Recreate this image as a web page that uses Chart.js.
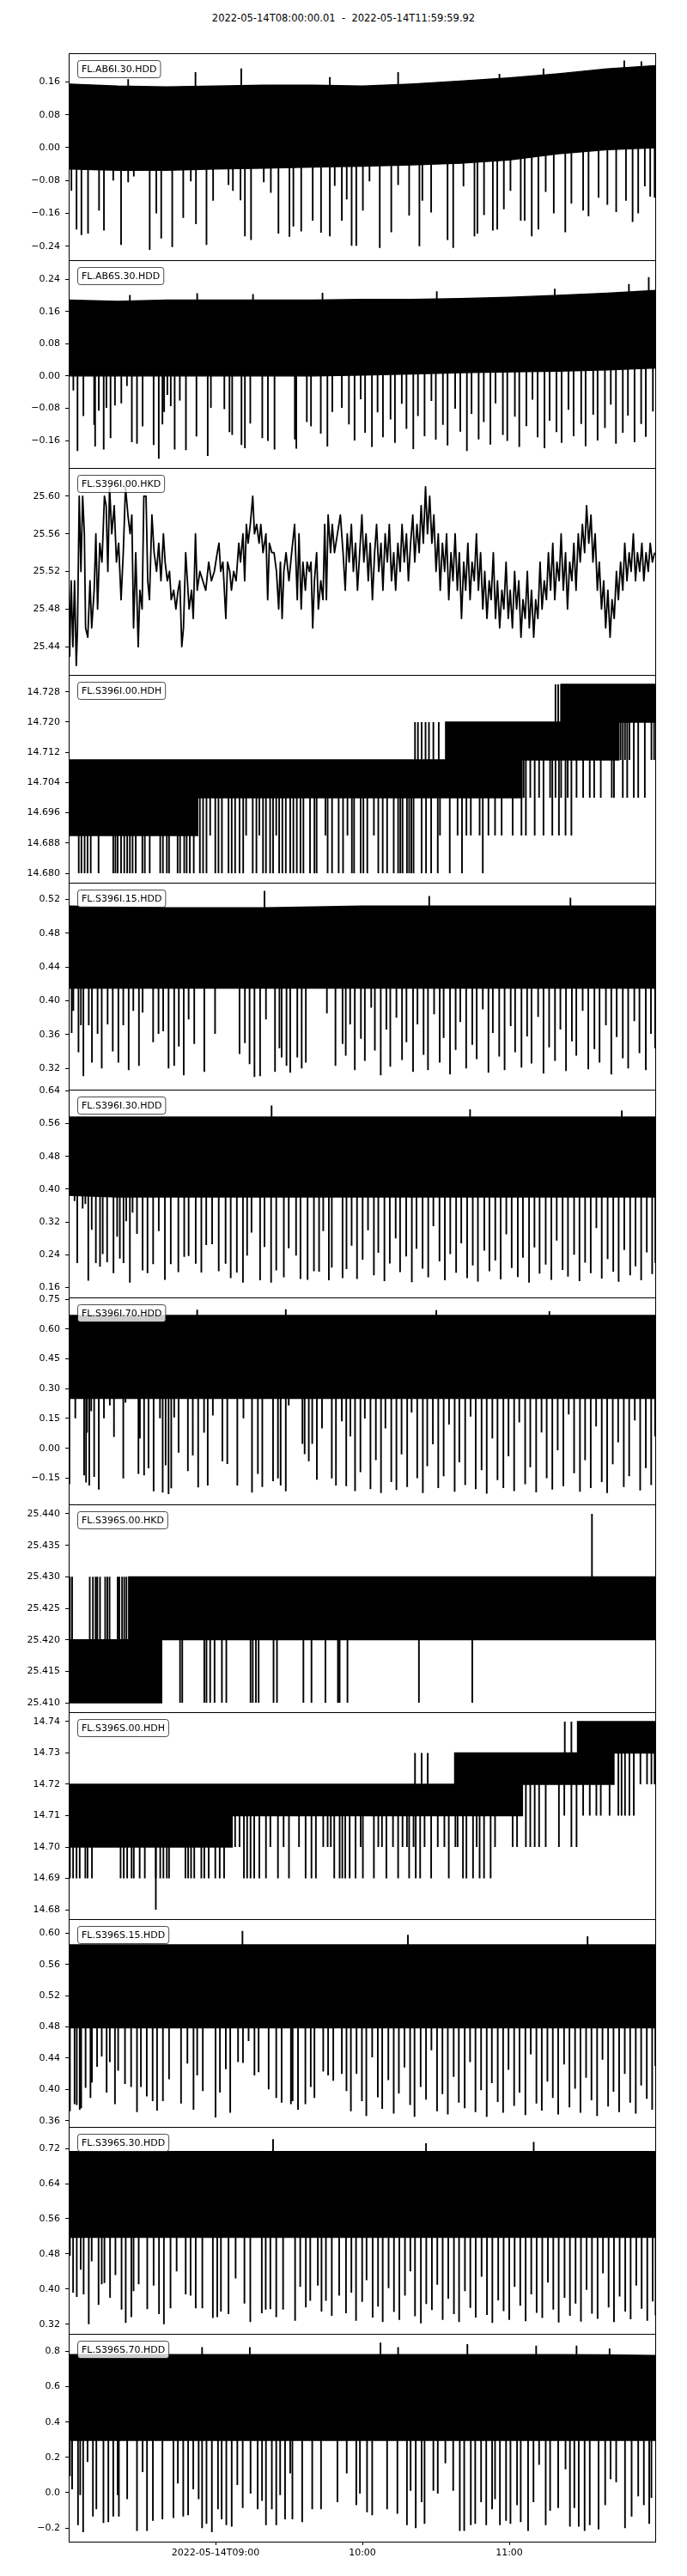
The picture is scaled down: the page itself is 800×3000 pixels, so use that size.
<!DOCTYPE html>
<html>
<head>
<meta charset="utf-8">
<script src="https://cdn.jsdelivr.net/npm/chart.js@4/dist/chart.umd.min.js"></script>
<style>
  body { margin: 0; background: #fff; width: 800px; height: 3000px; position: relative; font-family: 'DejaVu Sans', sans-serif; }
  #title { position: absolute; top: 14px; left: 0; width: 800px; text-align: center; font-size: 11.5px; white-space: pre; color: #000; }
  .panel { position: absolute; left: 0; width: 800px; }
</style>
</head>
<body>
<div id="title">2022-05-14T08:00:00.01  -  2022-05-14T11:59:59.92</div>
<script>
// time axis is minutes after 2022-05-14T08:00
const xTickMinutes = [60, 120, 180];
const xTickLabels = ['2022-05-14T09:00', '10:00', '11:00'];

const channelNames = ['FL.AB6I.30.HDD', 'FL.AB6S.30.HDD', 'FL.S396I.00.HKD', 'FL.S396I.00.HDH',
  'FL.S396I.15.HDD', 'FL.S396I.30.HDD', 'FL.S396I.70.HDD', 'FL.S396S.00.HKD',
  'FL.S396S.00.HDH', 'FL.S396S.15.HDD', 'FL.S396S.30.HDD', 'FL.S396S.70.HDD'];

const yLimits = [[-0.274, 0.230], [-0.228, 0.287], [25.410, 25.630], [14.6775, 14.7325],
  [0.2949, 0.5397], [0.136, 0.643], [-0.282, 0.759], [25.4085, 25.4415],
  [14.677, 14.743], [0.352, 0.618], [0.298, 0.769], [-0.277, 0.899]];
const yTicks = [
  [-0.24, -0.16, -0.08, 0, 0.08, 0.16],
  [-0.16, -0.08, 0, 0.08, 0.16, 0.24],
  [25.44, 25.48, 25.52, 25.56, 25.60],
  [14.680, 14.688, 14.696, 14.704, 14.712, 14.720, 14.728],
  [0.32, 0.36, 0.40, 0.44, 0.48, 0.52],
  [0.16, 0.24, 0.32, 0.40, 0.48, 0.56, 0.64],
  [-0.15, 0, 0.15, 0.30, 0.45, 0.60, 0.75],
  [25.410, 25.415, 25.420, 25.425, 25.430, 25.435, 25.440],
  [14.68, 14.69, 14.70, 14.71, 14.72, 14.73, 14.74],
  [0.36, 0.40, 0.44, 0.48, 0.52, 0.56, 0.60],
  [0.32, 0.40, 0.48, 0.56, 0.64, 0.72],
  [-0.2, 0, 0.2, 0.4, 0.6, 0.8]];
const yDecimals = [2, 2, 2, 3, 2, 2, 2, 3, 2, 2, 2, 1];

// envelope of the dense traces, sampled every 20 minutes
const bandMinutes = [0, 20, 40, 60, 80, 100, 120, 140, 160, 180, 200, 220, 240];
const ab6iHi = [0.155, 0.150, 0.148, 0.150, 0.152, 0.152, 0.150, 0.155, 0.162, 0.170, 0.180, 0.192, 0.200];
const ab6iLo = [-0.052, -0.055, -0.055, -0.052, -0.050, -0.047, -0.045, -0.042, -0.038, -0.030, -0.015, -0.005, 0.000];
const ab6sHi = [0.188, 0.185, 0.188, 0.188, 0.188, 0.188, 0.190, 0.190, 0.192, 0.195, 0.200, 0.205, 0.212];
const ab6sLo = [0.000, 0.000, 0.000, 0.000, 0.000, 0.000, 0.002, 0.005, 0.008, 0.010, 0.012, 0.015, 0.020];
const s396i15Hi = [0.512, 0.511, 0.510, 0.510, 0.510, 0.511, 0.512, 0.512, 0.512, 0.512, 0.512, 0.512, 0.512];
const s396i15Lo = [0.415, 0.415, 0.415, 0.415, 0.415, 0.415, 0.415, 0.415, 0.415, 0.415, 0.415, 0.415, 0.415];
const s396i30Hi = [0.576, 0.576, 0.576, 0.576, 0.576, 0.576, 0.576, 0.576, 0.576, 0.576, 0.576, 0.576, 0.576];
const s396i30Lo = [0.385, 0.381, 0.381, 0.381, 0.381, 0.381, 0.381, 0.381, 0.381, 0.381, 0.381, 0.381, 0.381];
const s396i70Hi = [0.668, 0.668, 0.668, 0.668, 0.668, 0.668, 0.668, 0.668, 0.668, 0.668, 0.668, 0.668, 0.668];
const s396i70Lo = [0.251, 0.251, 0.251, 0.251, 0.251, 0.251, 0.251, 0.251, 0.251, 0.251, 0.251, 0.251, 0.251];
const s396s15Hi = [0.585, 0.585, 0.585, 0.585, 0.585, 0.585, 0.585, 0.585, 0.585, 0.585, 0.585, 0.585, 0.585];
const s396s15Lo = [0.479, 0.479, 0.479, 0.479, 0.479, 0.479, 0.479, 0.479, 0.479, 0.479, 0.479, 0.479, 0.479];
const s396s30Hi = [0.713, 0.713, 0.713, 0.713, 0.713, 0.713, 0.713, 0.713, 0.713, 0.713, 0.713, 0.713, 0.713];
const s396s30Lo = [0.518, 0.518, 0.518, 0.518, 0.518, 0.518, 0.518, 0.518, 0.518, 0.518, 0.518, 0.518, 0.518];
const s396s70Hi = [0.782, 0.782, 0.782, 0.782, 0.782, 0.782, 0.782, 0.782, 0.782, 0.782, 0.782, 0.780, 0.776];
const s396s70Lo = [0.296, 0.296, 0.296, 0.296, 0.296, 0.296, 0.296, 0.296, 0.296, 0.296, 0.296, 0.296, 0.296];

// spikes [minute, value]
const ab6iDown = [[1.1,-0.105],[3.2,-0.199],[5.2,-0.213],[7.9,-0.209],[12.4,-0.153],[14.4,-0.202],[18.2,-0.080],[21.4,-0.237],
  [24.3,-0.084],[26.6,-0.070],[33.1,-0.249],[35.8,-0.160],[37.8,-0.221],[42.3,-0.242],[46.8,-0.171],[49.9,-0.082],
  [52.0,-0.186],[56.3,-0.237],[59.0,-0.129],[65.3,-0.091],[67.1,-0.105],[70.2,-0.128],[72.0,-0.216],[74.5,-0.225],
  [79.7,-0.084],[82.6,-0.110],[85.7,-0.209],[90.2,-0.217],[91.8,-0.192],[95.0,-0.204],[99.7,-0.178],[103.1,-0.207],
  [106.7,-0.216],[108.7,-0.093],[111.6,-0.178],[113.6,-0.126],[115.6,-0.239],[117.5,-0.239],[120.2,-0.153],[122.9,-0.082],
  [127.1,-0.244],[131.8,-0.206],[134.6,-0.091],[139.1,-0.165],[143.3,-0.240],[144.5,-0.129],[148.1,-0.158],[154.8,-0.225],
  [157.1,-0.244],[161.3,-0.094],[165.8,-0.216],[167.0,-0.209],[169.7,-0.164],[173.3,-0.202],[175.1,-0.199],[177.8,-0.150],
  [180.5,-0.105],[184.7,-0.178],[186.3,-0.178],[189.2,-0.216],[191.9,-0.199],[194.9,-0.108],[198.2,-0.160],[202.9,-0.206],
  [205.4,-0.136],[210.2,-0.153],[212.4,-0.167],[216.5,-0.122],[220.1,-0.139],[223.7,-0.157],[227.7,-0.129],[230.4,-0.181],
  [232.7,-0.160],[235.4,-0.094],[237.6,-0.119],[239.4,-0.122]];
const ab6iUp = [[24.3,0.167],[51.8,0.184],[70.5,0.193],[106.7,0.172],[134.6,0.184],[176.0,0.180],[194.0,0.193],[227.0,0.212],[234.0,0.210]];

const ab6sDown = [[1.9,-0.036],[3.6,-0.186],[6.0,-0.099],[10.4,-0.121],[10.8,-0.175],[12.3,-0.086],[14.3,-0.182],[15.4,-0.079],
  [17.1,-0.154],[18.9,-0.073],[21.5,-0.068],[23.8,-0.025],[25.8,-0.164],[27.9,-0.168],[30.2,-0.125],[34.7,-0.171],
  [36.8,-0.205],[38.3,-0.120],[39.0,-0.089],[40.3,-0.047],[41.7,-0.075],[43.3,-0.182],[45.4,-0.061],[47.9,-0.184],
  [52.2,-0.150],[56.8,-0.198],[58.1,-0.079],[63.6,-0.082],[65.7,-0.139],[66.8,-0.146],[70.6,-0.171],[72.0,-0.179],
  [74.2,-0.118],[79.1,-0.154],[81.4,-0.161],[84.1,-0.182],[92.4,-0.157],[93.0,-0.180],[97.3,-0.114],[99.0,-0.125],
  [103.0,-0.143],[105.7,-0.175],[107.7,-0.089],[111.6,-0.079],
  [114.5,-0.120],[116.8,-0.160],[119.3,-0.058],[121.1,-0.141],[123.9,-0.176],[126.2,-0.090],[128.4,-0.152],[131.5,-0.108],
  [133.3,-0.166],[136.1,-0.069],[138.0,-0.131],[140.8,-0.181],[142.7,-0.099],[145.4,-0.149],[148.2,-0.062],[150.0,-0.158],
  [152.9,-0.121],[154.8,-0.172],[157.9,-0.081],[160.0,-0.138],[162.7,-0.186],[164.6,-0.094],[167.5,-0.157],[169.6,-0.114],
  [172.3,-0.170],[174.4,-0.068],[177.4,-0.146],[179.2,-0.161],[182.3,-0.101],[184.1,-0.176],[187.0,-0.124],[189.5,-0.059],
  [191.6,-0.152],[194.4,-0.179],[196.5,-0.111],[199.3,-0.139],[201.4,-0.166],[204.2,-0.084],[206.3,-0.149],[209.4,-0.119],
  [211.2,-0.174],[214.3,-0.096],[216.1,-0.160],[219.1,-0.129],[221.5,-0.071],[223.6,-0.168],[226.4,-0.141],[228.5,-0.098],
  [231.2,-0.164],[233.9,-0.119],[235.8,-0.151],[238.7,-0.088]];
const ab6sUp = [[25.0,0.201],[52.5,0.205],[75.3,0.203],[103.7,0.206],[150.4,0.210],[198.6,0.216],[228.9,0.228],[237.0,0.245]];

const s396iHkd = [[0.0,25.51],[0.4,25.43],[1.0,25.51],[1.7,25.44],[2.4,25.51],[3.1,25.42],[3.6,25.46],[4.3,25.60],[5.0,25.52],
  [5.7,25.60],[6.4,25.56],[6.9,25.46],[7.8,25.45],[8.7,25.51],[9.4,25.46],[10.4,25.50],[11.1,25.56],[11.8,25.48],[12.7,25.55],
  [13.6,25.53],[14.6,25.60],[15.3,25.59],[16.0,25.52],[16.7,25.61],[17.6,25.56],[18.6,25.59],[19.5,25.53],[20.4,25.55],
  [21.4,25.49],[22.3,25.54],[23.2,25.61],[24.2,25.58],[25.1,25.56],[25.8,25.58],[26.5,25.46],[27.4,25.54],[28.4,25.44],
  [29.1,25.50],[30.0,25.48],[30.7,25.60],[31.6,25.60],[32.3,25.51],[33.0,25.49],[34.0,25.58],[34.9,25.54],[35.9,25.52],
  [36.8,25.55],[37.7,25.51],[38.7,25.56],[39.4,25.53],[40.3,25.51],[41.2,25.52],[41.9,25.49],[42.9,25.50],[43.8,25.48],
  [44.7,25.50],[45.4,25.51],[46.2,25.44],[46.9,25.46],[47.8,25.54],[48.5,25.51],[49.2,25.48],[50.2,25.50],[50.9,25.47],
  [51.8,25.56],[52.5,25.50],[53.6,25.52],[54.8,25.51],[56.0,25.50],[57.2,25.53],[58.3,25.51],[59.5,25.52],[60.7,25.54],
  [61.4,25.55],[62.1,25.52],[63.0,25.53],[64.2,25.47],[64.9,25.53],[65.8,25.52],[66.5,25.50],[67.4,25.52],[68.4,25.51],
  [69.5,25.55],[70.2,25.53],[71.2,25.56],[71.9,25.51],[72.6,25.57],[73.3,25.55],[74.2,25.57],[75.2,25.60],[75.9,25.56],
  [76.8,25.57],[77.8,25.55],[78.5,25.57],[79.4,25.54],[80.6,25.56],[81.3,25.49],[82.0,25.55],[83.0,25.54],[83.9,25.54],
  [84.9,25.52],[85.8,25.48],[86.5,25.53],[87.2,25.47],[87.9,25.52],[88.8,25.54],[90.0,25.51],[91.1,25.54],[92.3,25.57],
  [93.4,25.49],[94.1,25.56],[95.0,25.48],[95.7,25.53],[96.7,25.50],[97.4,25.53],[98.3,25.52],[99.0,25.53],[99.7,25.46],
  [100.4,25.51],[101.3,25.54],[102.0,25.48],[103.0,25.51],[103.9,25.49],[104.6,25.57],[105.3,25.49],[106.0,25.58],
  [107.0,25.54],[107.7,25.57],[108.6,25.54],[109.8,25.56],[111.0,25.58],[112.1,25.54],
  [113.0,25.50],[113.8,25.56],[114.6,25.53],[115.5,25.57],[116.3,25.52],[117.2,25.55],[118.0,25.50],[118.9,25.54],
  [119.8,25.58],[120.6,25.53],[121.5,25.56],[122.4,25.51],[123.2,25.55],[124.1,25.49],[125.0,25.54],[125.8,25.57],
  [126.7,25.52],[127.6,25.55],[128.4,25.50],[129.3,25.56],[130.2,25.53],[131.0,25.57],[131.9,25.51],[132.8,25.54],
  [133.6,25.50],[134.5,25.55],[135.4,25.52],[136.2,25.57],[137.1,25.53],[138.0,25.56],[138.8,25.51],[139.7,25.55],
  [140.6,25.58],[141.4,25.53],[142.3,25.57],[143.2,25.54],[144.0,25.59],[144.9,25.55],[145.8,25.61],[146.6,25.56],
  [147.5,25.60],[148.4,25.55],[149.2,25.58],[150.1,25.52],[151.0,25.56],[151.8,25.50],[152.7,25.55],[153.6,25.52],
  [154.4,25.56],[155.3,25.49],[156.2,25.54],[157.0,25.51],[157.9,25.56],[158.8,25.50],[159.6,25.54],[160.5,25.47],
  [161.4,25.53],[162.2,25.50],[163.1,25.55],[164.0,25.49],[164.8,25.53],[165.7,25.51],[166.6,25.56],[167.4,25.50],
  [168.3,25.54],[169.2,25.48],[170.0,25.52],[170.9,25.47],[171.8,25.51],[172.6,25.49],[173.5,25.54],[174.4,25.47],
  [175.2,25.51],[176.1,25.46],[177.0,25.50],[177.8,25.48],[178.7,25.53],[179.6,25.47],[180.4,25.50],[181.3,25.46],
  [182.2,25.52],[183.0,25.48],[183.9,25.51],[184.8,25.45],[185.6,25.49],[186.5,25.47],[187.4,25.52],[188.2,25.46],
  [189.1,25.50],[190.0,25.45],[190.8,25.49],[191.7,25.47],[192.6,25.53],[193.4,25.48],[194.3,25.51],[195.2,25.49],
  [196.0,25.54],[196.9,25.50],[197.8,25.55],[198.6,25.49],[199.5,25.53],[200.4,25.51],[201.2,25.56],[202.1,25.50],
  [203.0,25.54],[203.8,25.48],[204.7,25.53],[205.6,25.51],[206.4,25.55],[207.3,25.50],[208.2,25.56],[209.0,25.53],
  [209.9,25.57],[210.8,25.54],[211.6,25.59],[212.5,25.55],[213.4,25.58],[214.2,25.53],[215.1,25.56],[216.0,25.50],
  [216.8,25.53],[217.7,25.48],[218.6,25.51],[219.4,25.46],[220.3,25.50],[221.2,25.45],[222.0,25.49],[222.9,25.47],
  [223.8,25.52],[224.6,25.49],[225.5,25.53],[226.4,25.50],[227.2,25.55],[228.1,25.51],[229.0,25.54],[229.8,25.52],
  [230.7,25.56],[231.6,25.51],[232.4,25.54],[233.3,25.52],[234.2,25.55],[235.0,25.51],[235.9,25.54],[236.8,25.52],
  [237.6,25.55],[238.5,25.53],[239.4,25.54]];

// quantised HDH / HKD channels: level changes and spike times
const s396iHdhT = [0, 52.7, 154.0, 185.2, 201.2, 224.8, 240];
const s396iHdhHi = [14.71, 14.71, 14.72, 14.72, 14.73, 14.73, 14.73];
const s396iHdhLo = [14.69, 14.70, 14.70, 14.71, 14.71, 14.72, 14.72];
const s396iHdh69to68 = [4.1,5.2,6.5,7.7,9.0,12.2,18.2,19.1,20.0,21.4,22.7,23.9,25.0,26.1,27.4,30.1,31.1,33.1,37.4,38.5,40.1,41.0,44.5,45.5,47.2,48.2,49.5,51.1];
const s396iHdh70to68 = [53.6,54.9,56.3,59.9,61.2,62.6,65.3,66.6,68.0,69.8,71.3,75.2,76.7,79.4,80.6,82.3,83.5,86.0,87.3,88.7,90.5,91.8,93.2,94.7,95.9,98.6,100.4,101.3,105.8,107.6,110.3,112.1,115.7,116.6,119.3,120.4,122.0,126.5,128.3,130.1,132.8,134.6,135.5,136.4,138.2,139.1,140.0,140.9,144.2,146.0,148.1,150.8,155.7,160.7,169.2];
const s396iHdh71to69 = [57.8,72.5,77.9,84.8,104.9,113.9,124.7,151.7,158.9,162.5,164.3,167.9,171.5,174.2,176.9,181.4,185.0,186.8,190.4,194.0,197.6,200.3,203.0,205.4];
const s396iHdh72to70 = [185.9,188.6,192.2,196.7,198.9,201.2,203.9,207.5,210.2,212.9,214.7,217.4,221.9,222.8,226.4,228.2,230.9,232.7,235.4];
const s396iHdh72to71 = [225.5,227.3,229.1,238.1,239.2];
const s396iHdh71to72 = [141.5,142.7,144.2,145.8,147.2,149.0,151.2];
const s396iHdh72to73 = [198.9,200.0,201.2];

const s396sHkdT = [0, 24.5, 38.0, 240];
const s396sHkdHi = [25.42, 25.43, 25.43, 25.43];
const s396sHkdLo = [25.41, 25.41, 25.42, 25.42];
const s396sHkd42to43 = [0.5,1.4,8.6,9.9,11.0,11.7,12.8,14.9,15.8,16.7,20.0,20.7,21.8,22.7,23.6];
const s396sHkd42to41 = [45.5,46.4,55.4,56.3,57.8,59.6,62.6,64.4,74.3,75.2,76.5,77.6,83.7,85.1,95.9,99.2,104.9,110.0,110.7,113.9,143.1,164.9];
const s396sHkd43to44 = [213.8];

const s396sHdhT = [0, 66.8, 157.7, 185.4, 207.9, 222.8, 240];
const s396sHdhHi = [14.72, 14.72, 14.73, 14.73, 14.74, 14.74, 14.74];
const s396sHdhLo = [14.70, 14.71, 14.71, 14.72, 14.72, 14.73, 14.73];
const s396sHdh70to69 = [0.5,1.8,3.2,4.5,6.8,7.7,9.5,21.2,22.5,23.9,25.7,26.6,29.0,31.1,35.6,37.4,38.7,40.1,41.0,47.7,48.8,50.0,51.3,54.2,55.4,57.2,59.9,61.7,63.5];
const s396sHdh70to68 = [35.6];
const s396sHdh71to69 = [71.6,72.9,74.3,75.8,77.9,80.6,85.5,90.0,96.8,99.2,101.0,108.5,110.7,111.8,113.0,114.8,117.2,120.2,124.7,129.8,134.6,139.1,141.8,143.6,148.1,155.3,161.1,162.5,165.2,167.9,169.7,172.4];
const s396sHdh71to70 = [68.0,69.8,82.4,87.8,94.1,104.0,105.8,107.1,119.3,126.5,128.0,132.5,136.4,138.2,140.9,145.4,150.8,153.5,158.0,158.9,166.7,174.2,181.4,183.2];
const s396sHdh72to70 = [186.8,188.6,190.4,192.2,194.9,200.3,205.4,207.5];
const s396sHdh72to71 = [202.5,210.2,212.9,215.6,217.4,221.0];
const s396sHdh73to71 = [224.6,225.9,227.3,229.1,230.9];
const s396sHdh73to72 = [233.6,236.3,238.1,239.4];
const s396sHdh72to73 = [141.5,144.2,146.7];
const s396sHdh73to74 = [202.7,205.4];

const s396i15Down = [[1.2,0.362],[1.9,0.388],[4.0,0.339],[5.0,0.371],[6.0,0.311],[8.2,0.371],[9.5,0.327],[11.8,0.361],
  [13.5,0.320],[15.9,0.372],[18.0,0.340],[20.3,0.327],[22.3,0.371],[24.5,0.318],[26.4,0.388],[28.7,0.323],[30.2,0.386],
  [34.5,0.351],[36.7,0.361],[38.6,0.364],[40.8,0.320],[43.1,0.323],[45.0,0.346],[47.0,0.312],[49.0,0.378],[51.3,0.349],
  [55.4,0.316],[59.8,0.361],[69.8,0.337],[72.0,0.350],[73.9,0.325],[75.9,0.310],[78.2,0.311],[80.6,0.378],[84.3,0.316],
  [86.1,0.344],[87.0,0.333],[89.0,0.323],[90.5,0.315],[93.4,0.333],[95.2,0.320],[96.9,0.327],[105.5,0.385],[109.0,0.323],
  [111.9,0.349],
  [113.2,0.335],[115.0,0.372],[116.9,0.318],[119.4,0.355],[121.0,0.329],[123.6,0.392],[125.1,0.341],[127.5,0.312],
  [129.8,0.366],[131.4,0.322],[133.9,0.380],[136.2,0.330],[138.0,0.351],[140.7,0.316],[142.5,0.372],[145.0,0.336],
  [146.8,0.318],[149.3,0.384],[151.6,0.327],[153.2,0.356],[155.8,0.313],[158.1,0.342],[160.0,0.375],[162.4,0.320],
  [164.9,0.348],[166.7,0.331],[169.2,0.390],[171.5,0.315],[173.3,0.362],[175.9,0.334],[178.1,0.318],[180.6,0.370],
  [182.4,0.339],[185.0,0.321],[187.3,0.358],[189.1,0.326],[191.8,0.381],[194.0,0.314],[196.3,0.345],[198.7,0.329],
  [200.9,0.366],[203.2,0.317],[205.6,0.352],[207.4,0.335],[210.0,0.388],[212.3,0.319],[214.8,0.343],[216.9,0.327],
  [219.5,0.371],[221.7,0.313],[223.9,0.357],[226.4,0.332],[228.6,0.320],[231.1,0.376],[233.2,0.338],[235.8,0.318],
  [237.9,0.361],[239.6,0.344]];
const s396i15Up = [[80.0,0.530],[147.3,0.524],[205.0,0.522]];

const s396i30Down = [[2.4,0.371],[3.5,0.220],[5.7,0.353],[6.8,0.364],[8.0,0.177],[9.4,0.301],[11.1,0.220],[12.8,0.211],
  [13.9,0.242],[15.7,0.222],[18.3,0.195],[19.8,0.284],[20.9,0.231],[22.4,0.220],[23.5,0.322],[25.0,0.172],[26.1,0.343],
  [27.9,0.291],[30.2,0.202],[32.2,0.195],[34.5,0.217],[36.8,0.298],[39.3,0.179],[41.7,0.217],[44.8,0.198],[47.2,0.235],
  [49.0,0.237],[51.9,0.218],[54.2,0.197],[56.2,0.264],[58.6,0.266],[61.3,0.200],[64.1,0.218],[66.2,0.183],[68.7,0.197],
  [71.2,0.172],[72.9,0.238],[74.7,0.294],[78.2,0.178],[80.0,0.259],[82.7,0.172],[84.8,0.202],[87.9,0.185],[89.9,0.256],
  [92.9,0.238],[94.7,0.181],[97.6,0.179],[100.2,0.200],[102.3,0.199],[104.0,0.298],[106.3,0.178],[107.5,0.209],[111.9,0.183],
  [113.5,0.205],[115.6,0.262],[117.8,0.181],[120.1,0.228],[122.3,0.300],[124.7,0.190],[126.5,0.245],[129.0,0.176],
  [131.2,0.219],[133.6,0.280],[135.4,0.198],[137.9,0.236],[140.2,0.173],[142.1,0.255],[144.6,0.206],[146.9,0.185],
  [149.0,0.310],[151.5,0.224],[153.7,0.178],[155.9,0.242],[158.3,0.196],[160.4,0.268],[162.8,0.183],[165.1,0.214],
  [167.2,0.175],[169.8,0.250],[171.9,0.200],[174.3,0.226],[176.5,0.180],[178.8,0.290],[181.0,0.208],[183.5,0.186],
  [185.6,0.233],[188.1,0.172],[190.3,0.258],[192.4,0.194],[194.9,0.216],[197.2,0.179],[199.4,0.275],[201.8,0.203],
  [204.0,0.187],[206.5,0.240],[208.7,0.176],[211.0,0.221],[213.3,0.195],[215.6,0.305],[217.8,0.182],[220.2,0.230],
  [222.5,0.199],[224.7,0.174],[227.0,0.252],[229.4,0.190],[231.6,0.212],[233.9,0.178],[236.2,0.246],[238.4,0.193],
  [239.7,0.220]];
const s396i30Up = [[82.9,0.604],[164.0,0.595],[226.0,0.592]];

const s396i70Down = [[0.3,-0.180],[2.7,0.151],[6.3,-0.136],[7.1,-0.172],[7.5,0.079],[8.4,-0.187],[9.2,0.187],[10.4,-0.144],
  [12.3,-0.208],[14.4,0.151],[16.8,0.216],[18.5,0.057],[22.3,-0.151],[23.2,0.230],[28.5,-0.129],[29.1,0.050],[30.8,-0.136],
  [32.6,-0.101],[34.7,-0.216],[37.3,0.151],[38.4,-0.223],[39.6,-0.086],[40.8,-0.230],[41.9,-0.201],[43.1,0.155],[44.9,-0.022],
  [48.7,-0.115],[50.7,-0.036],[52.9,-0.197],[55.3,0.079],[56.8,-0.187],[58.9,0.165],[62.8,-0.065],[64.8,-0.079],[68.9,-0.187],
  [71.4,0.151],[74.9,-0.223],[77.3,-0.129],[79.1,-0.194],[83.5,-0.165],[85.5,-0.151],[86.6,-0.187],[88.7,-0.216],[89.9,0.216],
  [95.5,0.022],[96.4,-0.029],[98.1,-0.065],[99.5,0.022],[101.4,-0.158],[103.5,0.100],[107.5,-0.151],[109.2,-0.187],[111.6,0.136],
  [113.4,-0.190],[115.1,0.060],[117.0,-0.215],[119.2,-0.120],[121.0,0.150],[123.3,-0.205],[125.5,-0.060],[127.6,-0.225],
  [129.4,0.100],[131.8,-0.170],[133.9,-0.210],[136.0,-0.030],[138.3,-0.195],[140.1,0.180],[142.4,-0.150],[144.7,-0.225],
  [146.5,-0.090],[148.8,0.020],[151.0,-0.200],[153.2,-0.140],[155.4,0.120],[157.7,-0.218],[159.6,-0.070],[162.0,-0.185],
  [164.2,0.160],[166.3,-0.205],[168.7,-0.110],[170.8,-0.228],[173.1,0.050],[175.2,-0.160],[177.6,-0.200],[179.7,-0.040],
  [182.0,-0.215],[184.1,0.130],[186.5,-0.180],[188.6,-0.095],[191.0,-0.222],[193.2,0.080],[195.3,-0.150],[197.6,-0.208],
  [199.8,-0.010],[202.1,-0.190],[204.3,0.170],[206.5,-0.125],[208.9,-0.218],[211.0,-0.060],[213.3,-0.200],[215.5,0.110],
  [217.8,-0.170],[220.0,-0.225],[222.3,-0.080],[224.5,0.030],[226.8,-0.195],[229.0,-0.140],[231.3,0.140],[233.5,-0.212],
  [235.8,-0.100],[238.0,-0.185],[239.6,0.060]];
const s396i70Up = [[52.5,0.697],[88.7,0.700],[150.2,0.695],[196.4,0.690]];

const s396s15Down = [[0.5,0.372],[2.4,0.381],[3.3,0.380],[4.5,0.374],[5.1,0.376],[6.9,0.402],[8.9,0.389],[9.5,0.409],
  [11.6,0.429],[13.5,0.442],[15.5,0.396],[16.8,0.435],[18.9,0.381],[20.2,0.424],[23.0,0.407],[25.5,0.403],[27.9,0.371],
  [29.5,0.403],[31.9,0.391],[34.3,0.385],[36.1,0.373],[38.5,0.385],[41.0,0.413],[45.9,0.382],[48.5,0.433],[51.0,0.374],
  [52.5,0.418],[54.8,0.398],[60.0,0.364],[61.8,0.396],[64.2,0.426],[66.0,0.370],[69.2,0.435],[71.2,0.434],[73.5,0.462],
  [75.9,0.418],[77.6,0.422],[81.7,0.400],[84.8,0.389],[87.0,0.383],[90.8,0.381],[91.5,0.385],[93.7,0.374],[96.7,0.381],
  [98.9,0.403],[100.4,0.389],[104.0,0.423],[106.0,0.418],[108.1,0.411],[111.6,0.420],
  [113.5,0.398],[115.3,0.372],[117.6,0.420],[119.8,0.385],[121.6,0.366],[124.0,0.441],[126.3,0.390],[128.1,0.375],
  [130.6,0.412],[132.8,0.369],[134.9,0.395],[137.2,0.428],[139.5,0.380],[141.3,0.365],[143.8,0.403],[146.0,0.387],
  [148.2,0.450],[150.5,0.372],[152.7,0.394],[154.9,0.368],[157.3,0.416],[159.4,0.383],[161.8,0.376],[164.0,0.435],
  [166.2,0.371],[168.5,0.399],[170.8,0.365],[172.9,0.408],[175.3,0.384],[177.5,0.370],[179.7,0.425],[182.0,0.379],
  [184.2,0.396],[186.6,0.367],[188.8,0.445],[191.1,0.382],[193.3,0.373],[195.6,0.410],[197.8,0.389],[200.0,0.368],
  [202.4,0.432],[204.6,0.377],[206.9,0.401],[209.1,0.370],[211.4,0.415],[213.6,0.386],[215.9,0.366],[218.1,0.438],
  [220.4,0.378],[222.6,0.397],[224.9,0.371],[227.2,0.420],[229.4,0.383],[231.7,0.369],[233.9,0.405],[236.2,0.388],
  [238.4,0.374],[239.7,0.430]];
const s396s15Up = [[71.0,0.603],[138.6,0.598],[212.0,0.596]];

const s396s30Down = [[0.5,0.476],[1.8,0.392],[3.3,0.382],[4.9,0.444],[6.1,0.388],[8.2,0.320],[9.4,0.463],[12.2,0.364],
  [13.5,0.411],[14.6,0.414],[16.9,0.380],[19.1,0.432],[21.6,0.353],[23.3,0.323],[25.6,0.336],[26.5,0.395],[28.6,0.411],
  [32.1,0.354],[34.7,0.408],[36.9,0.343],[38.9,0.320],[41.6,0.356],[44.1,0.440],[47.8,0.388],[49.8,0.385],[51.9,0.356],
  [54.6,0.356],[58.9,0.334],[60.7,0.336],[62.2,0.349],[65.3,0.343],[68.2,0.424],[71.8,0.367],[74.2,0.325],[78.9,0.345],
  [80.5,0.353],[82.4,0.354],[84.8,0.336],[87.6,0.353],[92.5,0.328],[94.6,0.405],[96.9,0.358],[98.7,0.373],[101.8,0.408],
  [103.3,0.349],[105.1,0.373],[107.5,0.339],[110.5,0.385],
  [113.3,0.345],[115.5,0.392],[117.4,0.328],[119.9,0.371],[121.7,0.420],[124.2,0.335],[126.4,0.360],[128.3,0.325],
  [130.7,0.402],[132.9,0.348],[135.1,0.330],[137.4,0.385],[139.6,0.440],[141.5,0.338],[143.9,0.322],[146.1,0.366],
  [148.4,0.352],[150.6,0.410],[152.8,0.330],[155.1,0.378],[157.4,0.343],[159.5,0.325],[161.9,0.395],[164.1,0.357],
  [166.3,0.335],[168.7,0.428],[170.9,0.341],[173.1,0.323],[175.5,0.374],[177.7,0.350],[180.0,0.330],[182.2,0.405],
  [184.5,0.362],[186.7,0.327],[189.0,0.388],[191.2,0.346],[193.5,0.334],[195.8,0.415],[198.0,0.353],[200.2,0.324],
  [202.6,0.380],[204.8,0.339],[207.1,0.367],[209.3,0.326],[211.6,0.398],[213.8,0.344],[216.1,0.332],[218.3,0.436],
  [220.6,0.358],[222.8,0.325],[225.1,0.383],[227.4,0.349],[229.6,0.331],[231.9,0.408],[234.1,0.355],[236.4,0.328],
  [238.6,0.372],[239.8,0.340]];
const s396s30Up = [[83.5,0.741],[146.0,0.732],[190.0,0.735]];

const s396s70Down = [[0.5,0.093],[1.4,0.020],[3.8,-0.184],[4.7,-0.013],[5.9,-0.224],[7.7,0.174],[9.9,-0.135],[11.3,-0.094],
  [14.2,-0.171],[16.2,-0.167],[18.2,-0.135],[20.0,-0.013],[20.5,-0.135],[23.9,-0.037],[27.9,-0.216],[30.2,0.117],[32.0,-0.216],
  [34.4,-0.159],[38.3,-0.151],[42.8,-0.143],[44.6,0.052],[46.8,-0.135],[48.8,-0.127],[50.9,0.020],[53.1,-0.037],[54.5,-0.200],
  [56.3,-0.176],[58.5,-0.224],[61.0,-0.094],[62.5,-0.151],[64.4,-0.184],[66.6,-0.192],[68.9,0.044],[71.1,-0.086],[74.3,-0.005],
  [77.2,-0.094],[79.0,-0.046],[80.6,-0.184],[83.0,-0.094],[84.8,-0.184],[86.4,-0.013],[88.4,-0.151],[90.5,0.109],[91.4,-0.151],
  [95.4,-0.167],[99.5,-0.094],[103.1,-0.094],[109.8,-0.054],[113.6,0.109],[117.5,-0.070],[119.0,-0.005],[121.9,-0.111],
  [124.0,-0.127],[130.1,-0.094],[134.3,-0.119],[138.2,-0.184],[139.7,0.011],[141.8,-0.200],[144.2,-0.054],[145.4,-0.176],
  [149.0,0.011],[150.8,-0.005],[153.9,0.166],[157.1,0.011],[159.8,-0.216],[161.6,-0.216],[164.3,-0.184],[166.1,-0.176],
  [168.5,-0.054],[170.6,-0.184],[173.0,-0.094],[174.2,-0.037],[176.2,-0.184],[178.7,-0.159],[180.5,-0.176],[183.2,-0.070],
  [184.7,-0.167],[187.7,-0.216],[189.9,-0.054],[192.2,0.158],[194.9,-0.184],[196.7,-0.102],[200.0,-0.086],[203.0,0.133],
  [204.8,-0.192],[206.6,-0.086],[208.4,-0.192],[210.8,-0.216],[212.9,-0.184],[216.5,-0.208],[219.2,-0.070],[221.4,0.076],
  [223.7,0.060],[227.3,-0.200],[230.0,-0.135],[232.7,-0.021],[235.0,-0.070],[237.2,-0.176],[238.1,-0.029]];
const s396s70Up = [[54.5,0.824],[74.0,0.824],[127.4,0.849],[134.6,0.824],[162.9,0.841],[191.0,0.832],[207.5,0.832],[221.0,0.816]];

// ---------------------------------------------------------------------------------
function pairsToSpikes(base, pairs) {
    const pts = [];
    pairs.forEach(function (p) {
        pts.push({ x: p[0], y: base }, { x: p[0], y: p[1] }, { x: p[0], y: null });
    });
    return pts;
}
function timesToSpikes(from, to, times) {
    return pairsToSpikes(from, times.map(function (t) { return [t, to]; }));
}
function bandPoints(times, values) {
    return times.map(function (t, i) { return { x: t, y: values[i] }; });
}

const panels = [
    { band: [bandMinutes, ab6iHi, ab6iLo], spikes: [pairsToSpikes(0.05, ab6iDown), pairsToSpikes(0.05, ab6iUp)] },
    { band: [bandMinutes, ab6sHi, ab6sLo], spikes: [pairsToSpikes(0.09, ab6sDown), pairsToSpikes(0.09, ab6sUp)] },
    { line: s396iHkd },
    { band: [s396iHdhT, s396iHdhHi, s396iHdhLo], stepped: true, spikes: [
        timesToSpikes(14.69, 14.68, s396iHdh69to68), timesToSpikes(14.70, 14.68, s396iHdh70to68),
        timesToSpikes(14.71, 14.69, s396iHdh71to69), timesToSpikes(14.72, 14.70, s396iHdh72to70),
        timesToSpikes(14.72, 14.71, s396iHdh72to71), timesToSpikes(14.71, 14.72, s396iHdh71to72),
        timesToSpikes(14.72, 14.73, s396iHdh72to73)] },
    { band: [bandMinutes, s396i15Hi, s396i15Lo], spikes: [pairsToSpikes(0.46, s396i15Down), pairsToSpikes(0.46, s396i15Up)] },
    { band: [bandMinutes, s396i30Hi, s396i30Lo], spikes: [pairsToSpikes(0.48, s396i30Down), pairsToSpikes(0.48, s396i30Up)] },
    { band: [bandMinutes, s396i70Hi, s396i70Lo], spikes: [pairsToSpikes(0.45, s396i70Down), pairsToSpikes(0.45, s396i70Up)] },
    { band: [s396sHkdT, s396sHkdHi, s396sHkdLo], stepped: true, spikes: [
        timesToSpikes(25.42, 25.43, s396sHkd42to43), timesToSpikes(25.42, 25.41, s396sHkd42to41),
        timesToSpikes(25.43, 25.44, s396sHkd43to44)] },
    { band: [s396sHdhT, s396sHdhHi, s396sHdhLo], stepped: true, spikes: [
        timesToSpikes(14.70, 14.69, s396sHdh70to69), timesToSpikes(14.70, 14.68, s396sHdh70to68),
        timesToSpikes(14.71, 14.69, s396sHdh71to69), timesToSpikes(14.71, 14.70, s396sHdh71to70),
        timesToSpikes(14.72, 14.70, s396sHdh72to70), timesToSpikes(14.72, 14.71, s396sHdh72to71),
        timesToSpikes(14.73, 14.71, s396sHdh73to71), timesToSpikes(14.73, 14.72, s396sHdh73to72),
        timesToSpikes(14.72, 14.73, s396sHdh72to73), timesToSpikes(14.73, 14.74, s396sHdh73to74)] },
    { band: [bandMinutes, s396s15Hi, s396s15Lo], spikes: [pairsToSpikes(0.53, s396s15Down), pairsToSpikes(0.53, s396s15Up)] },
    { band: [bandMinutes, s396s30Hi, s396s30Lo], spikes: [pairsToSpikes(0.62, s396s30Down), pairsToSpikes(0.62, s396s30Up)] },
    { band: [bandMinutes, s396s70Hi, s396s70Lo], spikes: [pairsToSpikes(0.54, s396s70Down), pairsToSpikes(0.54, s396s70Up)] }
];

// frame around the plot area and the channel name box
const framePlugin = {
    id: 'frame',
    afterDraw(chart) {
        const ctx = chart.ctx, a = chart.chartArea;
        ctx.save();
        ctx.strokeStyle = '#000';
        ctx.lineWidth = 1;
        ctx.strokeRect(a.left + 0.5, a.top + 0.5, a.right - a.left - 1, a.bottom - a.top);
        const name = chart.options.plugins.frame.name;
        ctx.font = '11px "DejaVu Sans"';
        const w = ctx.measureText(name).width;
        const bx = a.left + 10.5, by = a.top + 8.5, bw = w + 9, bh = 20;
        ctx.beginPath();
        ctx.roundRect(bx, by, bw, bh, 3);
        ctx.fillStyle = 'rgba(255,255,255,0.8)';
        ctx.fill();
        ctx.strokeStyle = 'rgba(0,0,0,0.7)';
        ctx.stroke();
        ctx.fillStyle = '#000';
        ctx.textBaseline = 'middle';
        ctx.fillText(name, bx + 4.5, by + bh / 2 + 0.5);
        ctx.restore();
    }
};

const PANEL_TOP = 61.5, PANEL_H = 241.54, PAD = 14, XAXIS_H = 30;

panels.forEach(function (p, i) {
    const top = Math.round(PANEL_TOP + i * PANEL_H);
    const bottom = Math.round(PANEL_TOP + (i + 1) * PANEL_H);
    const last = i === panels.length - 1;
    const h = bottom - top + 2 * PAD + (last ? XAXIS_H : 0);

    const div = document.createElement('div');
    div.className = 'panel';
    div.style.top = (top - PAD) + 'px';
    div.style.height = h + 'px';
    const canvas = document.createElement('canvas');
    canvas.width = 800;
    canvas.height = h;
    canvas.style.width = '800px';
    canvas.style.height = h + 'px';
    div.appendChild(canvas);
    document.body.appendChild(div);

    const datasets = [];
    if (p.line) {
        datasets.push({
            data: p.line.map(function (q) { return { x: q[0], y: q[1] }; }),
            borderColor: '#000', borderWidth: 1.8, pointRadius: 0, fill: false,
            borderJoinStyle: 'round', tension: 0
        });
    } else {
        datasets.push({
            data: bandPoints(p.band[0], p.band[1]),
            borderColor: '#000', backgroundColor: '#000', borderWidth: 1.4, pointRadius: 0,
            fill: '+1', stepped: !!p.stepped, tension: 0
        });
        datasets.push({
            data: bandPoints(p.band[0], p.band[2]),
            borderColor: '#000', borderWidth: 1.4, pointRadius: 0, fill: false,
            stepped: !!p.stepped, tension: 0
        });
        p.spikes.forEach(function (s) {
            datasets.push({
                data: s, borderColor: '#000', borderWidth: 1.9, pointRadius: 0,
                fill: false, spanGaps: false, tension: 0
            });
        });
    }

    const ticks = yTicks[i], dec = yDecimals[i];
    new Chart(canvas, {
        type: 'line',
        data: { datasets: datasets },
        options: {
            responsive: false,
            animation: false,
            events: [],
            layout: { padding: { left: 0, right: 36, top: PAD, bottom: last ? 0 : PAD } },
            plugins: { legend: { display: false }, tooltip: { enabled: false }, frame: { name: channelNames[i] } },
            scales: {
                x: {
                    type: 'linear', min: 0, max: 240,
                    display: last,
                    afterBuildTicks: function (axis) {
                        axis.ticks = xTickMinutes.map(function (v) { return { value: v }; });
                    },
                    afterFit: function (axis) {
                        if (last) axis.height = PAD + XAXIS_H;
                        axis.paddingLeft = 0; axis.paddingRight = 0;
                    },
                    grid: { drawOnChartArea: false, drawTicks: true, tickLength: 4, tickColor: '#000', tickWidth: 1 },
                    border: { display: false },
                    ticks: {
                        autoSkip: false, maxRotation: 0, color: '#000', padding: 3,
                        font: { family: 'DejaVu Sans', size: 11 },
                        callback: function (v) {
                            const k = xTickMinutes.indexOf(v);
                            return k >= 0 ? xTickLabels[k] : '';
                        }
                    }
                },
                y: {
                    type: 'linear', min: yLimits[i][0], max: yLimits[i][1],
                    afterBuildTicks: function (axis) {
                        axis.ticks = ticks.map(function (v) { return { value: v }; });
                    },
                    afterFit: function (axis) {
                        axis.width = 80;
                        axis.paddingTop = 0; axis.paddingBottom = 0;
                    },
                    grid: { drawOnChartArea: false, drawTicks: true, tickLength: 4, tickColor: '#000', tickWidth: 1 },
                    border: { display: false },
                    ticks: {
                        autoSkip: false, color: '#000', padding: 6,
                        font: { family: 'DejaVu Sans', size: 11 },
                        callback: function (v) {
                            const s = Math.abs(v).toFixed(dec);
                            return v < -1e-9 ? '\u2212' + s : s;
                        }
                    }
                }
            }
        },
        plugins: [framePlugin]
    });
});
</script>
</body>
</html>
